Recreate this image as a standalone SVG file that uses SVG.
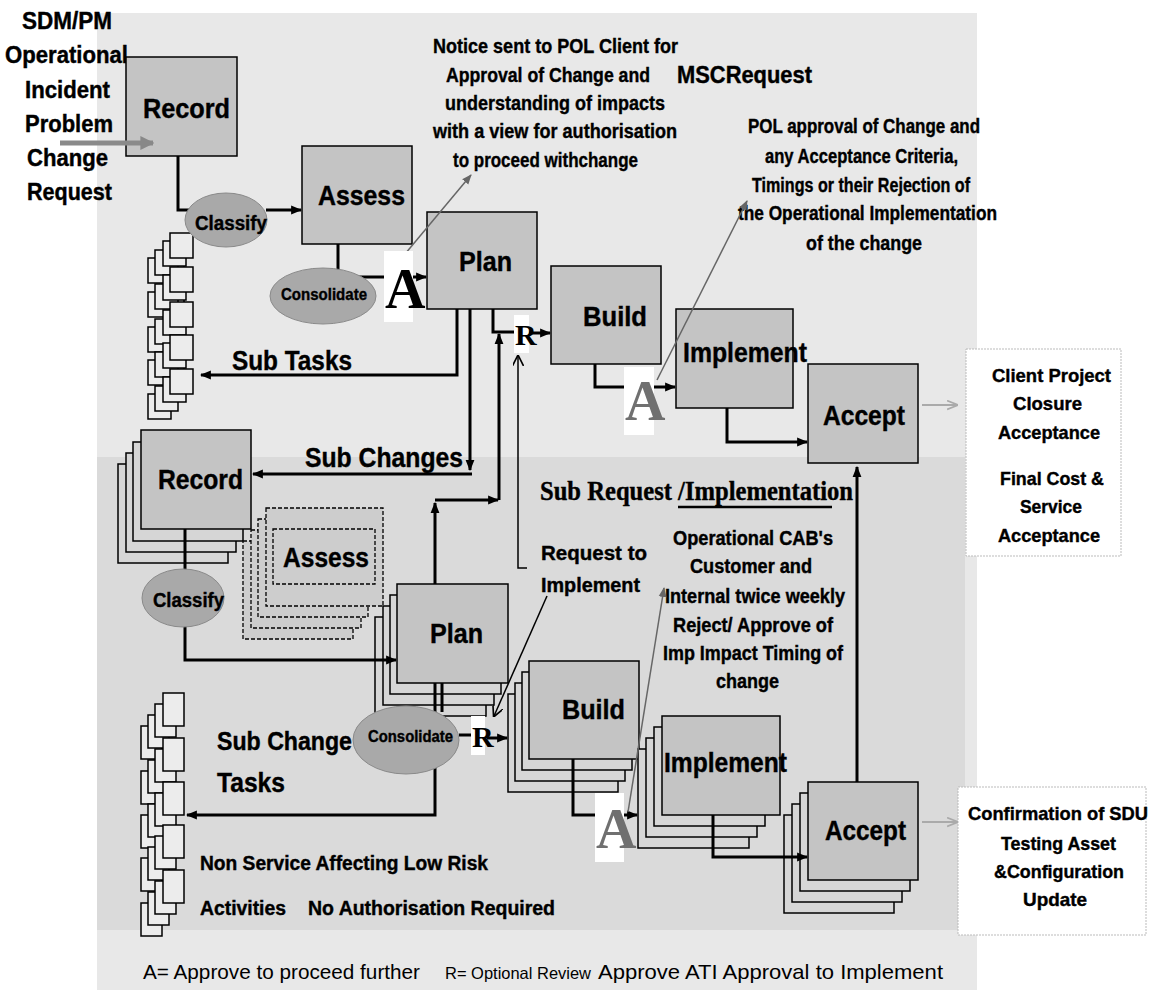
<svg xmlns="http://www.w3.org/2000/svg" width="1159" height="996" viewBox="0 0 1159 996">
<style>
.box{fill:#c4c4c4;stroke:#000;stroke-width:1.5}
.back{fill:#d6d6d6;stroke:#000;stroke-width:1.5}
.dash{fill:#cdcdcd;stroke:#000;stroke-width:1.3;stroke-dasharray:4 2}
.sm{fill:#ececec;stroke:#000;stroke-width:1.5}
.ell{fill:#a9a9a9;stroke:#8a8a8a;stroke-width:1}
.t{font-family:"Liberation Sans",Arial,sans-serif;font-weight:bold;fill:#000;stroke:#000;stroke-width:0.4}
.n{font-family:"Liberation Sans",Arial,sans-serif;fill:#000}
.s{font-family:"Liberation Serif","Times New Roman",serif}
.c{fill:none;stroke:#000;stroke-width:3}
.thin{fill:none;stroke:#666;stroke-width:1.5}
.thinb{fill:none;stroke:#000;stroke-width:1.5}
.wb{fill:#fff}
.note{fill:#fff;stroke:#bbb;stroke-width:1;stroke-dasharray:2 1}
</style>
<defs>
<marker id="ah" viewBox="0 0 10 10" refX="9" refY="5" markerWidth="11" markerHeight="11" markerUnits="userSpaceOnUse" orient="auto"><path d="M0,1 L10,5 L0,9 z" fill="#000"/></marker>
<marker id="ahg" viewBox="0 0 10 10" refX="9" refY="5" markerWidth="10" markerHeight="10" markerUnits="userSpaceOnUse" orient="auto"><path d="M0,1 L10,5 L0,9 z" fill="#666"/></marker>
<marker id="ahgb" viewBox="0 0 10 10" refX="9" refY="5" markerWidth="14" markerHeight="14" markerUnits="userSpaceOnUse" orient="auto"><path d="M0,0 L10,5 L0,10 z" fill="#888"/></marker>
<marker id="ahl" viewBox="0 0 10 10" refX="9" refY="5" markerWidth="11" markerHeight="11" markerUnits="userSpaceOnUse" orient="auto"><path d="M0,1 L10,5 L0,9" fill="none" stroke="#aaa" stroke-width="1.5"/></marker>
<marker id="aho" viewBox="0 0 10 10" refX="9" refY="5" markerWidth="11" markerHeight="11" markerUnits="userSpaceOnUse" orient="auto"><path d="M0,0 L10,5 L0,10" fill="none" stroke="#000" stroke-width="1.5"/></marker>
<g id="st1"><rect class="sm" x="-22" y="25" width="23" height="25"/><rect class="sm" x="-15" y="17" width="23" height="25"/><rect class="sm" x="-7" y="8" width="23" height="25"/><rect class="sm" x="0" y="0" width="23" height="25"/></g>
<g id="st2"><rect class="sm" x="-22" y="33" width="21" height="33"/><rect class="sm" x="-15" y="22" width="21" height="33"/><rect class="sm" x="-8" y="11" width="21" height="33"/><rect class="sm" x="0" y="0" width="21" height="33"/></g>
</defs>

<rect x="0" y="0" width="1159" height="996" fill="#fff"/>
<rect x="97" y="13" width="880" height="977" fill="#e8e8e8"/>
<rect x="97" y="457" width="868" height="473" fill="#dadada"/>

<g id="input-text">
<text class="t" x="22" y="29" font-size="23" textLength="90" lengthAdjust="spacingAndGlyphs">SDM/PM</text>
<text class="t" x="5" y="63" font-size="23" textLength="123" lengthAdjust="spacingAndGlyphs">Operational</text>
<text class="t" x="25" y="98" font-size="23" textLength="85" lengthAdjust="spacingAndGlyphs">Incident</text>
<text class="t" x="25" y="132" font-size="23" textLength="88" lengthAdjust="spacingAndGlyphs">Problem</text>
<text class="t" x="27" y="166" font-size="23" textLength="81" lengthAdjust="spacingAndGlyphs">Change</text>
<text class="t" x="27" y="200" font-size="23" textLength="85" lengthAdjust="spacingAndGlyphs">Request</text>
</g>

<g id="subtask-stack">
<line x1="184" y1="240" x2="184" y2="400" stroke="#000" stroke-width="1.5"/>
<use href="#st1" x="170" y="233"/><use href="#st1" x="170" y="267"/><use href="#st1" x="170" y="302"/><use href="#st1" x="170" y="335"/><use href="#st1" x="170" y="369"/>
</g>
<g id="subchangetask-stack">
<use href="#st2" x="163" y="693"/><use href="#st2" x="163" y="738"/><use href="#st2" x="163" y="782"/><use href="#st2" x="163" y="825"/><use href="#st2" x="163" y="870"/>
</g>

<g id="record-top"><rect class="box" x="126" y="57" width="111" height="99"/><text class="t" x="143" y="118" font-size="27" textLength="87" lengthAdjust="spacingAndGlyphs">Record</text></g>
<g id="assess-top"><rect class="box" x="302" y="146" width="110" height="98"/><text class="t" x="318" y="205" font-size="27" textLength="87" lengthAdjust="spacingAndGlyphs">Assess</text></g>
<g id="plan-top"><rect class="box" x="427" y="212" width="110" height="97"/><text class="t" x="459" y="271" font-size="27" textLength="53" lengthAdjust="spacingAndGlyphs">Plan</text></g>
<g id="build-top"><rect class="box" x="551" y="266" width="110" height="98"/><text class="t" x="583" y="326" font-size="27" textLength="64" lengthAdjust="spacingAndGlyphs">Build</text></g>
<g id="implement-top"><rect class="box" x="676" y="309" width="117" height="99"/><text class="t" x="683" y="362" font-size="27" textLength="124" lengthAdjust="spacingAndGlyphs">Implement</text></g>
<g id="accept-top"><rect class="box" x="808" y="364" width="110" height="99"/><text class="t" x="823" y="425" font-size="27" textLength="82" lengthAdjust="spacingAndGlyphs">Accept</text></g>

<g id="record-sub"><rect class="back" x="118" y="464" width="110" height="99"/><rect class="back" x="126" y="453" width="110" height="99"/><rect class="back" x="133" y="442" width="110" height="99"/><rect class="box" x="141" y="430" width="110" height="99"/><text class="t" x="158" y="489" font-size="27" textLength="85" lengthAdjust="spacingAndGlyphs">Record</text></g>
<g id="assess-sub"><rect class="dash" x="243" y="541" width="110" height="98"/><rect class="dash" x="251" y="530" width="110" height="98"/><rect class="dash" x="258" y="519" width="110" height="98"/><rect class="dash" x="266" y="508" width="117" height="98"/><rect class="dash" x="273" y="529" width="102" height="55" fill="none"/><text class="t" x="283" y="567" font-size="27" textLength="86" lengthAdjust="spacingAndGlyphs">Assess</text></g>
<g id="plan-sub"><rect class="back" x="375" y="617" width="111" height="99"/><rect class="back" x="383" y="606" width="111" height="99"/><rect class="back" x="390" y="595" width="111" height="99"/><rect class="box" x="397" y="584" width="111" height="99"/><text class="t" x="430" y="643" font-size="27" textLength="53" lengthAdjust="spacingAndGlyphs">Plan</text></g>
<g id="build-sub"><rect class="back" x="508" y="694" width="110" height="98"/><rect class="back" x="515" y="683" width="110" height="98"/><rect class="back" x="522" y="672" width="110" height="98"/><rect class="box" x="529" y="661" width="110" height="98"/><text class="t" x="562" y="719" font-size="27" textLength="63" lengthAdjust="spacingAndGlyphs">Build</text></g>
<g id="implement-sub"><rect class="back" x="638" y="749" width="111" height="99"/><rect class="back" x="646" y="738" width="111" height="99"/><rect class="back" x="654" y="727" width="111" height="99"/><rect class="box" x="662" y="716" width="118" height="99"/><text class="t" x="664" y="772" font-size="27" textLength="123" lengthAdjust="spacingAndGlyphs">Implement</text></g>
<g id="accept-sub"><rect class="back" x="784" y="815" width="110" height="98"/><rect class="back" x="792" y="804" width="110" height="98"/><rect class="back" x="800" y="793" width="110" height="98"/><rect class="box" x="808" y="782" width="110" height="98"/><text class="t" x="825" y="840" font-size="27" textLength="81" lengthAdjust="spacingAndGlyphs">Accept</text></g>

<g id="client-closure"><rect class="note" x="966" y="349" width="155" height="207"/>
<text class="t" x="992" y="382" font-size="19" textLength="119" lengthAdjust="spacingAndGlyphs">Client Project</text>
<text class="t" x="1013" y="410" font-size="19" textLength="69" lengthAdjust="spacingAndGlyphs">Closure</text>
<text class="t" x="998" y="439" font-size="19" textLength="102" lengthAdjust="spacingAndGlyphs">Acceptance</text>
<text class="t" x="1000" y="485" font-size="19" textLength="104" lengthAdjust="spacingAndGlyphs">Final Cost &amp;</text>
<text class="t" x="1020" y="513" font-size="19" textLength="62" lengthAdjust="spacingAndGlyphs">Service</text>
<text class="t" x="998" y="542" font-size="19" textLength="102" lengthAdjust="spacingAndGlyphs">Acceptance</text>
</g>
<g id="confirmation"><rect class="note" x="958" y="787" width="188" height="148"/>
<text class="t" x="968" y="820" font-size="19" textLength="180" lengthAdjust="spacingAndGlyphs">Confirmation of SDU</text>
<text class="t" x="1001" y="850" font-size="19" textLength="115" lengthAdjust="spacingAndGlyphs">Testing Asset</text>
<text class="t" x="994" y="878" font-size="19" textLength="130" lengthAdjust="spacingAndGlyphs">&amp;Configuration</text>
<text class="t" x="1023" y="906" font-size="19" textLength="64" lengthAdjust="spacingAndGlyphs">Update</text>
</g>

<g id="notice-text">
<text class="t" x="433" y="53" font-size="21" textLength="245" lengthAdjust="spacingAndGlyphs">Notice sent to POL Client for</text>
<text class="t" x="446" y="82" font-size="21" textLength="204" lengthAdjust="spacingAndGlyphs">Approval of Change and</text>
<text class="t" x="445" y="110" font-size="21" textLength="220" lengthAdjust="spacingAndGlyphs">understanding of impacts</text>
<text class="t" x="433" y="138" font-size="21" textLength="244" lengthAdjust="spacingAndGlyphs">with a view for authorisation</text>
<text class="t" x="453" y="167" font-size="21" textLength="185" lengthAdjust="spacingAndGlyphs">to proceed withchange</text>
</g>
<g id="msc-title"><text class="t" x="677" y="83" font-size="23" textLength="135" lengthAdjust="spacingAndGlyphs">MSCRequest</text></g>
<g id="pol-text">
<text class="t" x="748" y="133" font-size="20" textLength="232" lengthAdjust="spacingAndGlyphs">POL approval of Change and</text>
<text class="t" x="765" y="163" font-size="20" textLength="193" lengthAdjust="spacingAndGlyphs">any Acceptance Criteria,</text>
<text class="t" x="752" y="192" font-size="20" textLength="218" lengthAdjust="spacingAndGlyphs">Timings or their Rejection of</text>
<text class="t" x="738" y="220" font-size="20" textLength="259" lengthAdjust="spacingAndGlyphs">the Operational Implementation</text>
<text class="t" x="806" y="250" font-size="20" textLength="116" lengthAdjust="spacingAndGlyphs">of the change</text>
</g>
<g id="labels">
<text class="t" x="232" y="370" font-size="28" textLength="120" lengthAdjust="spacingAndGlyphs">Sub Tasks</text>
<text class="t" x="305" y="467" font-size="28" textLength="158" lengthAdjust="spacingAndGlyphs">Sub Changes</text>
<text class="t" x="217" y="750" font-size="25" textLength="135" lengthAdjust="spacingAndGlyphs">Sub Change</text>
<text class="t" x="217" y="792" font-size="27" textLength="68" lengthAdjust="spacingAndGlyphs">Tasks</text>
<text class="t" x="200" y="870" font-size="20" textLength="288" lengthAdjust="spacingAndGlyphs">Non Service Affecting Low Risk</text>
<text class="t" x="200" y="915" font-size="20" textLength="86" lengthAdjust="spacingAndGlyphs">Activities</text>
<text class="t" x="308" y="915" font-size="20" textLength="247" lengthAdjust="spacingAndGlyphs">No Authorisation Required</text>
<text class="t" x="541" y="560" font-size="20" textLength="106" lengthAdjust="spacingAndGlyphs">Request to</text>
<text class="t" x="541" y="592" font-size="20" textLength="99" lengthAdjust="spacingAndGlyphs">Implement</text>
<text class="t" x="673" y="545" font-size="20" textLength="160" lengthAdjust="spacingAndGlyphs">Operational CAB's</text>
<text class="t" x="690" y="573" font-size="20" textLength="122" lengthAdjust="spacingAndGlyphs">Customer and</text>
<text class="t" x="665" y="603" font-size="20" textLength="180" lengthAdjust="spacingAndGlyphs">Internal twice weekly</text>
<text class="t" x="673" y="632" font-size="20" textLength="160" lengthAdjust="spacingAndGlyphs">Reject/ Approve of</text>
<text class="t" x="663" y="660" font-size="20" textLength="180" lengthAdjust="spacingAndGlyphs">Imp Impact Timing of</text>
<text class="t" x="716" y="688" font-size="20" textLength="63" lengthAdjust="spacingAndGlyphs">change</text>
<text class="t s" x="540" y="500" font-size="27" textLength="313" lengthAdjust="spacingAndGlyphs">Sub Request /Implementation</text>
<line x1="678" y1="507" x2="832" y2="507" stroke="#000" stroke-width="2.5"/>
</g>
<g id="legend">
<text class="n" x="143" y="979" font-size="21" textLength="277" lengthAdjust="spacingAndGlyphs">A= Approve  to proceed further</text>
<text class="n" x="445" y="979" font-size="16.5" textLength="146" lengthAdjust="spacingAndGlyphs">R= Optional Review</text>
<text class="n" x="598" y="979" font-size="21" textLength="345" lengthAdjust="spacingAndGlyphs" fill="#777">Approve ATI Approval to Implement</text>
</g>

<g id="connectors">
<path d="M60,143 H153" stroke="#8a8a8a" stroke-width="5" fill="none" marker-end="url(#ahgb)"/>
<path class="c" d="M178,156 V210 H192"/>
<path class="c" d="M266,210 H301" marker-end="url(#ah)"/>
<path class="c" d="M338,244 V277 H426" marker-end="url(#ah)"/>
<path class="c" d="M457,309 V375 H201" marker-end="url(#ah)"/>
<path class="c" d="M470,309 V470" marker-end="url(#ah)"/>
<path class="c" d="M472,474 H253" marker-end="url(#ah)"/>
<path class="c" d="M493,309 V332 H515"/>
<path class="c" d="M529,333 H550" marker-end="url(#ah)"/>
<path class="c" d="M435,584 V503" marker-end="url(#ah)"/>
<path class="c" d="M435,500 H498" marker-end="url(#ah)"/>
<path class="c" d="M499,500 V334" marker-end="url(#ah)"/>
<path class="c" d="M595,364 V387 H675" marker-end="url(#ah)"/>
<path class="c" d="M727,408 V442 H807" marker-end="url(#ah)"/>
<path d="M922,405 H957" stroke="#aaa" stroke-width="2" fill="none" marker-end="url(#ahl)"/>
<path class="c" d="M185,529 V660 H396" marker-end="url(#ah)"/>
<path class="c" d="M442,683 V712"/>
<path class="c" d="M435,683 V815 H187" marker-end="url(#ah)"/>
<path class="c" d="M459,735 H472"/>
<path class="c" d="M487,738 H507" marker-end="url(#ah)"/>
<path class="c" d="M573,759 V815 H637" marker-end="url(#ah)"/>
<path class="c" d="M713,815 V857 H807" marker-end="url(#ah)"/>
<path class="c" d="M857,782 V467" marker-end="url(#ah)"/>
<path d="M922,822 H957" stroke="#aaa" stroke-width="2" fill="none" marker-end="url(#ahl)"/>
<path class="thin" d="M400,260 L471,175" marker-end="url(#ahg)"/>
<path class="thin" d="M657,380 L747,201" marker-end="url(#ahg)"/>
<path class="thin" d="M628,812 L664,588" marker-end="url(#ahg)"/>
<path class="thinb" d="M527,568 H518 V356" marker-end="url(#aho)"/>
<path class="thinb" d="M547,596 L494,716" marker-end="url(#aho)"/>
</g>

<g id="classify-top"><ellipse class="ell" cx="226" cy="220" rx="41" ry="27"/><text class="t" x="195" y="230" font-size="20" textLength="72" lengthAdjust="spacingAndGlyphs">Classify</text></g>
<g id="consolidate-top"><ellipse class="ell" cx="323" cy="296" rx="53" ry="28"/><text class="t" x="281" y="300" font-size="17" textLength="86" lengthAdjust="spacingAndGlyphs">Consolidate</text></g>
<g id="classify-sub"><ellipse class="ell" cx="183" cy="598" rx="41" ry="29"/><text class="t" x="153" y="607" font-size="20" textLength="71" lengthAdjust="spacingAndGlyphs">Classify</text></g>
<g id="consolidate-sub"><ellipse class="ell" cx="406" cy="740" rx="53" ry="34"/><text class="t" x="368" y="742" font-size="17" textLength="85" lengthAdjust="spacingAndGlyphs">Consolidate</text></g>

<g id="approve-1"><rect class="wb" x="384" y="251" width="29" height="71"/><text class="s" x="385" y="308" font-size="56" font-weight="bold" fill="#000">A</text></g>
<g id="review-1"><rect class="wb" x="514" y="315" width="15" height="38"/><text class="s" x="515" y="345" font-size="30" font-weight="bold" fill="#000">R</text></g>
<g id="approve-2"><rect class="wb" x="624" y="367" width="30" height="68"/><text class="s" x="625" y="420" font-size="56" font-weight="bold" fill="#707070">A</text></g>
<g id="review-2"><rect class="wb" x="471" y="716" width="14" height="39"/><text class="s" x="472" y="747" font-size="30" font-weight="bold" fill="#000">R</text></g>
<g id="approve-3"><rect class="wb" x="595" y="793" width="29" height="69"/><text class="s" x="596" y="848" font-size="56" font-weight="bold" fill="#707070">A</text></g>
</svg>
